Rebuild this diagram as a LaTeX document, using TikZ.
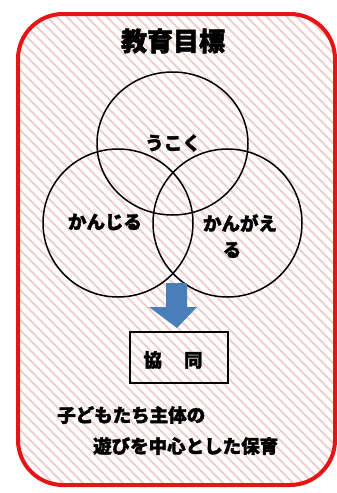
\documentclass[tikz,border=0pt]{standalone}
\usepackage{fontspec}
\usetikzlibrary{shapes.geometric}
\newfontfamily\jp{Noto Sans CJK JP}[BoldFeatures={FakeBold=2}]
\definecolor{boxred}{RGB}{230,20,20}
\definecolor{hatch}{RGB}{240,206,206}
\definecolor{arrowblue}{RGB}{74,126,187}
\begin{document}
\begin{tikzpicture}[x=1pt,y=-1pt,
  venn/.style={draw=black,line width=1.5pt,ellipse,inner sep=0pt},
  jptext/.style={font=\jp\bfseries\fontsize{18.5}{20}\selectfont,inner sep=0pt},
  framebox/.style={draw=black,line width=2pt,minimum width=98pt,minimum height=51pt,inner sep=0pt}]
\useasboundingbox (0,0) rectangle (337,493);
\fill[white] (0,0) rectangle (337,493);
% hatched background inside frame
\begin{scope}
  \clip[rounded corners=45pt] (18,14) rectangle (335,485);
  \foreach \k in {-520,-510,...,340} {
    \draw[hatch,line width=2pt] (\k,0) -- (\k+500,500);
  }
\end{scope}
\draw[boxred,line width=4pt,rounded corners=45pt] (18,14) rectangle (335,485);
% title
\node[jptext,font=\jp\bfseries\fontsize{26}{28}\selectfont] (title) at (173,41) {教育目標};
% circles
\node[venn,minimum width=151pt,minimum height=143pt] (top) at (172.5,143.5) {};
\node[venn,minimum width=150pt,minimum height=148pt] (left) at (118,223) {};
\node[venn,minimum width=149pt,minimum height=148pt] (right) at (227.5,223) {};
\node[jptext] (ugoku) at (173,143) {うこく};
\node[jptext] (kanjiru) at (105,222) {かんじる};
\node[jptext] (kanga) at (240,223) {かんがえ};
\node[jptext] (ru) at (232,250) {る};
% arrow
\fill[arrowblue] (166,283) -- (187,283) -- (187,307) -- (197,307) -- (177,328) -- (149,307) -- (166,307) -- cycle;
% box
\node[framebox] (kyodo) at (179,357.5) {};
\node[jptext] (kyodotext) at (173,360) {協\hspace{22pt}同};
% bottom text
\node[jptext,anchor=west] (line1) at (57,415) {子どもたち主体の};
\node[jptext,anchor=west] (line2) at (93,446) {遊びを中心とした保育};
\end{tikzpicture}
\end{document}
